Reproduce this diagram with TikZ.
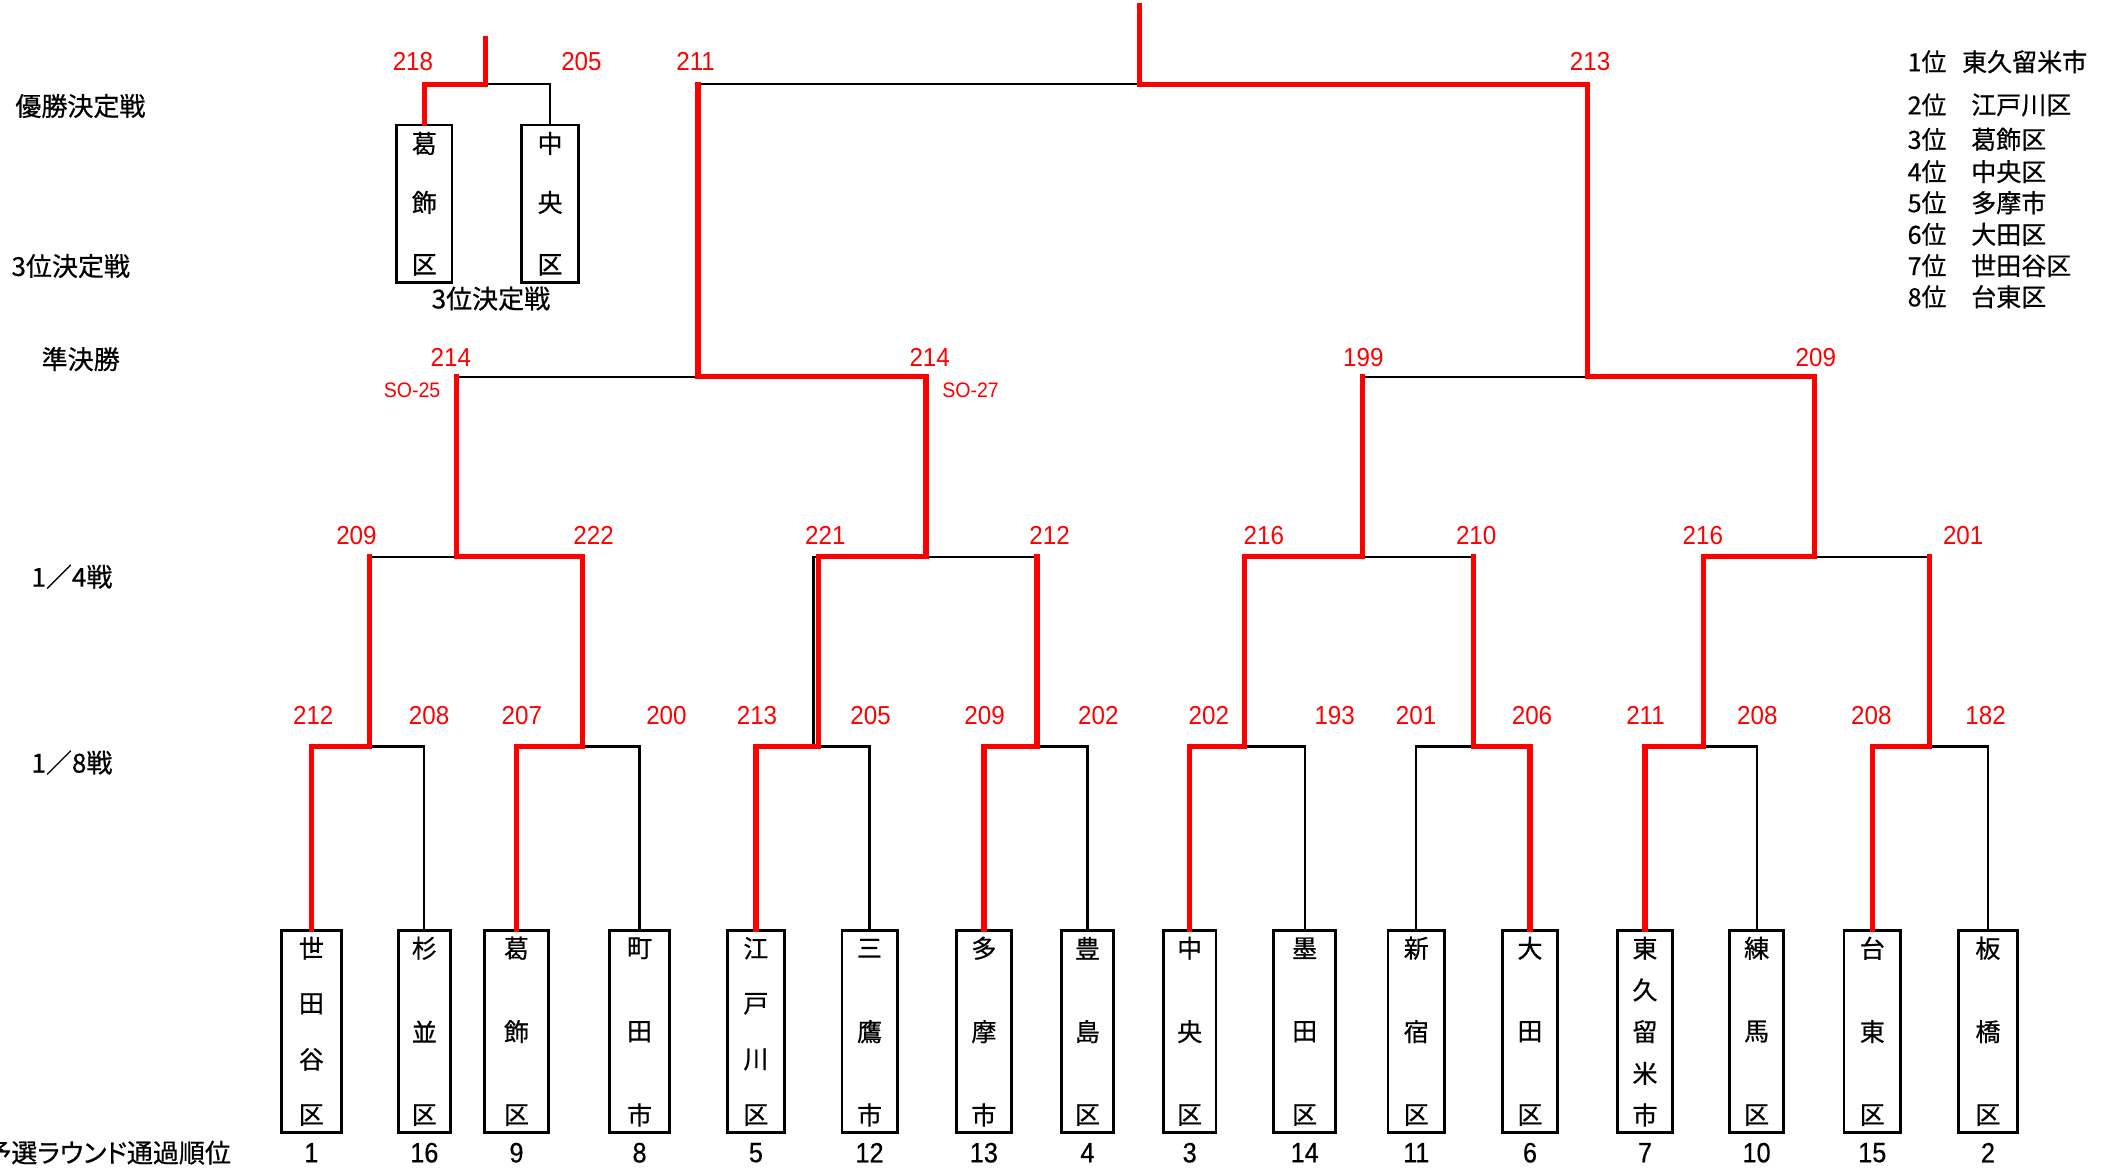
\documentclass[tikz,border=0pt]{standalone}
\usepackage{fontspec}
\newfontfamily\jp[FakeBold=0.6]{Noto Sans CJK JP}
\newfontfamily\jpp[FakeBold=0.6,RawFeature=+palt]{Noto Sans CJK JP}
\newfontfamily\numf[FakeStretch=0.93]{Liberation Sans}
\newfontfamily\numb[FakeStretch=0.9,FakeBold=0.5]{Liberation Sans}
\newcommand\teamcol[6]{% name, x, width, chars, count, rank
  \node[teambox, minimum width=#3*0.6725pt] (#1) at (#2,767) {};
  \foreach \ch [count=\i] in {#4}{
    \node[boxchar] (#1-c\i) at (#2,{705+(\i-1)*124/(#5-1)}) {\ch};
  }
  \node[ranknum] (#1-rank) at (#2,857) {#6};
}
\begin{document}
\begin{tikzpicture}[x=0.6725pt, y=-0.6725pt,
  redln/.style={draw=red, line width=2.6pt, line join=miter, line cap=rect},
  blkln/.style={draw=black, line width=1.1pt},
  teambox/.style={draw, line width=1.4pt, minimum height=100.9pt, inner sep=0pt},
  boxchar/.style={font=\jp\fontsize{12.5pt}{13pt}\selectfont, inner sep=0pt},
  score/.style={text=red, font=\numf\fontsize{13pt}{15pt}\selectfont, inner sep=0pt},
  solabel/.style={text=red, font=\numf\fontsize{10.5pt}{12pt}\selectfont, inner sep=0pt},
  rowlabel/.style={font=\jp\fontsize{13pt}{15pt}\selectfont, inner sep=0pt},
  ranknum/.style={font=\numb\fontsize{14pt}{16pt}\selectfont, inner sep=0pt},
  ranklist/.style={font=\jp\fontsize{12.5pt}{14pt}\selectfont, inner sep=0pt, anchor=west},
]
\useasboundingbox (0,0) rectangle (1568,868);

% ---------- team boxes ----------
\teamcol{t1}{231.5}{45}{世,田,谷,区}{4}{1}
\teamcol{t2}{315.5}{39}{杉,並,区}{3}{16}
\teamcol{t3}{384}{48}{葛,飾,区}{3}{9}
\teamcol{t4}{475.5}{45}{町,田,市}{3}{8}
\teamcol{t5}{562}{42}{江,戸,川,区}{4}{5}
\teamcol{t6}{646.5}{41}{三,鷹,市}{3}{12}
\teamcol{t7}{731.5}{41}{多,摩,市}{3}{13}
\teamcol{t8}{808.5}{39}{豊,島,区}{3}{4}
\teamcol{t9}{884.5}{39}{中,央,区}{3}{3}
\teamcol{t10}{970}{46}{墨,田,区}{3}{14}
\teamcol{t11}{1053}{42}{新,宿,区}{3}{11}
\teamcol{t12}{1137.5}{41}{大,田,区}{3}{6}
\teamcol{t13}{1223}{41}{東,久,留,米,市}{5}{7}
\teamcol{t14}{1306}{40}{練,馬,区}{3}{10}
\teamcol{t15}{1392}{42}{台,東,区}{3}{15}
\teamcol{t16}{1478}{44}{板,橋,区}{3}{2}

% ---------- third place boxes ----------
\node[teambox, minimum width=41*0.6725pt, minimum height=78.7pt] (k1) at (315.5,151.5) {};
\node[boxchar] (k1-c1) at (315.5,106.6) {葛};
\node[boxchar] (k1-c2) at (315.5,150.5) {飾};
\node[boxchar] (k1-c3) at (315.5,197) {区};
\node[teambox, minimum width=42*0.6725pt, minimum height=78.7pt] (k2) at (409,151.5) {};
\node[boxchar] (k2-c1) at (409,106.6) {中};
\node[boxchar] (k2-c2) at (409,150.5) {央};
\node[boxchar] (k2-c3) at (409,197) {区};

% ---------- junctions ----------
\coordinate (r1a) at (275,555);
\coordinate (r1b) at (433,555);
\coordinate (r1c) at (608.5,555);
\coordinate (r1cb) at (604.8,555);
\coordinate (r1d) at (771,555);
\coordinate (r1e) at (925,555);
\coordinate (r1f) at (1095.5,555);
\coordinate (r1g) at (1266.3,555);
\coordinate (r1h) at (1434.5,555);
\coordinate (q1) at (339.5,414);
\coordinate (q2) at (688.5,414);
\coordinate (q3) at (1012.7,414);
\coordinate (q4) at (1349,414);
\coordinate (s1) at (519,280);
\coordinate (s2) at (1180.3,280);
\coordinate (fin) at (847,62.7);
\coordinate (fintop) at (847,4);
\coordinate (tp) at (361,62.7);
\coordinate (tptop) at (361,28.5);

% ---------- black (losing) lines ----------
\draw[blkln] (t2.north) |- (r1a);
\draw[blkln] (t4.north) |- (r1b);
\draw[blkln] (t6.north) |- (r1c);
\draw[blkln] (t8.north) |- (r1d);
\draw[blkln] (t10.north) |- (r1e);
\draw[blkln] (t11.north) |- (r1f);
\draw[blkln] (t14.north) |- (r1g);
\draw[blkln] (t16.north) |- (r1h);
\draw[blkln] (r1cb) -- (r1cb |- q2) -- (q2);
\draw[blkln] (r1a |- q1) -- (q1);
\draw[blkln] (r1d |- q2) -- (q2);
\draw[blkln] (r1f |- q3) -- (q3);
\draw[blkln] (r1h |- q4) -- (q4);
\draw[blkln] (q1 |- s1) -- (s1);
\draw[blkln] (q3 |- s2) -- (s2);
\draw[blkln] (s1 |- fin) -- (fin);
\draw[blkln] (k2.north) |- (tp);

% ---------- red (winning) lines ----------
\draw[redln] (t1.north) |- (r1a) -- (r1a |- q1);
\draw[redln] (t3.north) |- (r1b) -- (r1b |- q1) -- (q1) -- (q1 |- s1);
\draw[redln] (t5.north) |- (r1c) -- (r1c |- q2) -- (q2) -- (q2 |- s1) -- (s1) -- (s1 |- fin);
\draw[redln] (t7.north) |- (r1d) -- (r1d |- q2);
\draw[redln] (t9.north) |- (r1e) -- (r1e |- q3) -- (q3) -- (q3 |- s2);
\draw[redln] (t12.north) |- (r1f) -- (r1f |- q3);
\draw[redln] (t13.north) |- (r1g) -- (r1g |- q4) -- (q4) -- (q4 |- s2) -- (s2) -- (s2 |- fin) -- (fin) -- (fintop);
\draw[redln] (t15.north) |- (r1h) -- (r1h |- q4);
\draw[redln] (k1.north) |- (tp) -- (tptop);

% ---------- scores ----------
\node[score] (sc1) at (232.9,532) {212};
\node[score] (sc2) at (319,532) {208};
\node[score] (sc3) at (388,532) {207};
\node[score] (sc4) at (495.5,532) {200};
\node[score] (sc5) at (562.8,532) {213};
\node[score] (sc6) at (647.3,532) {205};
\node[score] (sc7) at (732,532) {209};
\node[score] (sc8) at (816.6,532) {202};
\node[score] (sc9) at (898.7,532) {202};
\node[score] (sc10) at (992.3,532) {193};
\node[score] (sc11) at (1052.8,532) {201};
\node[score] (sc12) at (1139,532) {206};
\node[score] (sc13) at (1223.4,532) {211};
\node[score] (sc14) at (1306.5,532) {208};
\node[score] (sc15) at (1391.3,532) {208};
\node[score] (sc16) at (1476.2,532) {182};

\node[score] (qs1) at (265,397.8) {209};
\node[score] (qs2) at (441.3,397.8) {222};
\node[score] (qs3) at (613.6,397.8) {221};
\node[score] (qs4) at (780.3,397.8) {212};
\node[score] (qs5) at (939.6,397.8) {216};
\node[score] (qs6) at (1097.5,397.8) {210};
\node[score] (qs7) at (1266,397.8) {216};
\node[score] (qs8) at (1459.6,397.8) {201};

\node[score] (ss1) at (335.2,266) {214};
\node[score] (ss2) at (691.2,266) {214};
\node[score] (ss3) at (1013.6,266) {199};
\node[score] (ss4) at (1350,266) {209};
\node[solabel] (so1) at (306.4,290) {SO-25};
\node[solabel] (so2) at (721.6,290.5) {SO-27};

\node[score] (fs1) at (517.2,45.5) {211};
\node[score] (fs2) at (1182.2,45.5) {213};
\node[score] (ts1) at (307,45.5) {218};
\node[score] (ts2) at (432.3,45.5) {205};

% ---------- row labels ----------
\node[rowlabel] (lab1) at (59.8,78.8) {優勝決定戦};
\node[rowlabel] (lab2) at (52.6,197.8) {3位決定戦};
\node[rowlabel] (lab3) at (60,267) {準決勝};
\node[rowlabel] (lab4) at (53.5,428.8) {1／4戦};
\node[rowlabel] (lab5) at (53.5,567) {1／8戦};
\node[rowlabel, font=\jpp\fontsize{13pt}{15pt}\selectfont, anchor=east] (lab6) at (172,857) {予選ラウンド通過順位};
\node[rowlabel] (tplabel) at (365,222) {3位決定戦};

% ---------- final ranking ----------
\node[ranklist] (p1) at (1418,45.9) {1位};
\node[ranklist] (n1) at (1458.5,45.9) {東久留米市};
\node[ranklist] (p2) at (1418,78) {2位};
\node[ranklist] (n2) at (1465.3,78) {江戸川区};
\node[ranklist] (p3) at (1418,103.6) {3位};
\node[ranklist] (n3) at (1465.3,103.6) {葛飾区};
\node[ranklist] (p4) at (1418,127.6) {4位};
\node[ranklist] (n4) at (1465.3,127.6) {中央区};
\node[ranklist] (p5) at (1418,150.7) {5位};
\node[ranklist] (n5) at (1465.3,150.7) {多摩市};
\node[ranklist] (p6) at (1418,174.2) {6位};
\node[ranklist] (n6) at (1465.3,174.2) {大田区};
\node[ranklist] (p7) at (1418,197.5) {7位};
\node[ranklist] (n7) at (1465.3,197.5) {世田谷区};
\node[ranklist] (p8) at (1418,220.6) {8位};
\node[ranklist] (n8) at (1465.3,220.6) {台東区};
\end{tikzpicture}
\end{document}
